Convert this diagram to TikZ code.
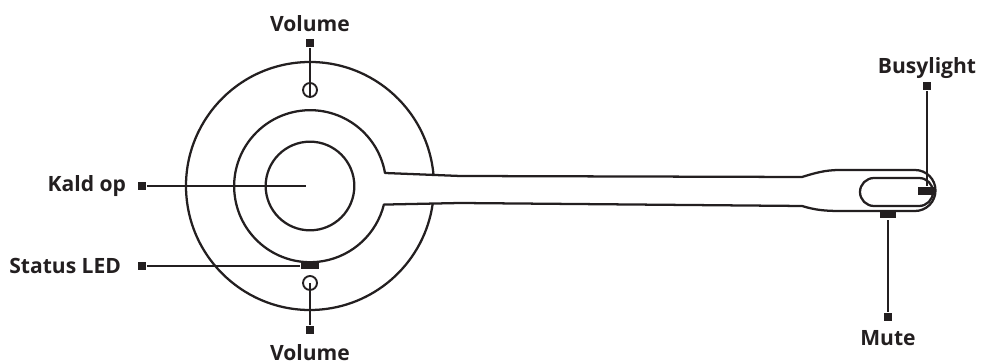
\documentclass[tikz,border=0pt]{standalone}
\usepackage{fontspec}
\setmainfont{Open Sans}
\usepackage{tikz}
\usetikzlibrary{positioning}
\definecolor{ink}{HTML}{231F20}
\begin{document}
\begin{tikzpicture}[x=0.75pt, y=0.75pt, line width=1.7pt, color=ink,
          every node/.style={font=\fontsize{15.8}{18}\selectfont\bfseries, align=center, inner sep=0pt},
          dot/.style={fill=ink, minimum size=6.5pt},
          led/.style={fill=ink, minimum width=13.5pt, minimum height=5pt},
          ring/.style={draw=ink, line width=1.4pt, circle, minimum size=10.5pt},
          lead/.style={line width=1.1pt}]
        \useasboundingbox (0,0) rectangle (982,363);
        % base and arm
        \draw (310,177) ++(5:124) arc[start angle=5, end angle=351.7, radius=124];
        \node[draw=ink, circle, minimum size=66.5pt] (cap) at (310,177) {};
        \draw[line join=round] (385,190) arc[start angle=10, end angle=346, radius=76]
              -- (460,160) -- (802,157)
              .. controls (815,153) and (825,152) .. (840,152) -- (915,152)
              arc[start angle=-90, end angle=90, radius=20.5] -- (840,193)
              .. controls (825,193) and (815,190) .. (802,186)
              -- (460,187) -- cycle;
        \draw (874,157) arc[start angle=-90, end angle=-270, radius=14] -- (919,185)
              arc[start angle=90, end angle=-90, radius=14] -- cycle;
        % parts
        \node[ring] (volup) at (310,273) {};
        \node[ring] (voldown) at (310,80) {};
        \node[led] (status) at (310,97) {};
        \node[led, minimum height=4.5pt, minimum width=12pt] (mutekey) at (888,147.5) {};
        \node[led, minimum height=6pt, minimum width=13pt] (busykey) at (927,172) {};
        \coordinate (capmid) at (306,177);
        % leader ends
        \node[dot] (volupend) at (310,320) {};
        \node[dot] (voldownend) at (310,33) {};
        \node[dot] (callend) at (142,177) {};
        \node[dot] (statusend) at (142,97) {};
        \node[dot] (busyend) at (927,277) {};
        \node[dot] (muteend) at (888,46) {};
        % labels
        \node[above=3.75pt of volupend] (volupl) {Volume};
        \node[below=6pt of voldownend] (voldownl) {Volume};
        \node[left=7pt of callend] (calll) {Kald op};
        \node[left=10.8pt of statusend] (statusl) {Status LED};
        \node[above=0.75pt of busyend] (busyl) {Busylight};
        \node[below=5.3pt of muteend] (mutel) {Mute};
        \draw[lead] (volupend) -- (volup.south);
        \draw[lead] (voldownend) -- (voldown.center);
        \draw[lead] (callend) -- (capmid);
        \draw[lead] (statusend) -- (status);
        \draw[lead] (busyend) -- (busykey);
        \draw[lead] (muteend) -- (mutekey);
      \end{tikzpicture}
\end{document}
